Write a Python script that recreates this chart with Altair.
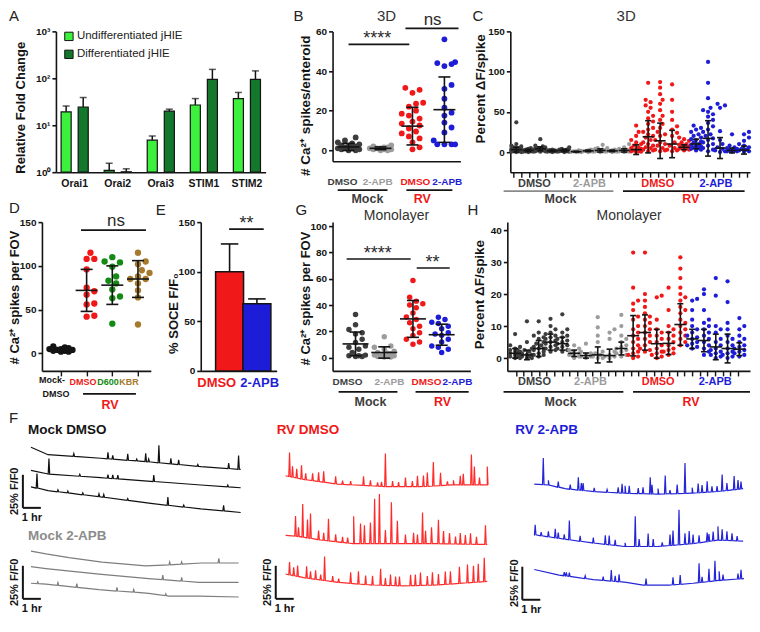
import altair as alt
import numpy as np
import pandas as pd

FONT = "Liberation Sans"
BLACK = "#141414"
DARK = "#3d3d3d"
GRAY = "#9c9c9c"
LINEGRAY = "#8a8a8a"
RED = "#f01818"
BLUE = "#1d1dd8"
GREEN = "#138a13"
BROWN = "#a67a2c"
LGREEN = "#3ef03e"
DGREEN = "#13782b"
T_BLACK = "#111111"
T_GRAY = "#7d7d7d"
T_RED = "#ff2a2a"
T_BLUE = "#2525d8"

# ---------------- Panel A data ----------------
A_GENES = ["Orai1", "Orai2", "Orai3", "STIM1", "STIM2"]
A_SERIES = ["Undifferentiated jHIE", "Differentiated jHIE"]
A_UNDIFF = [19.3, 1.09, 4.8, 27.0, 37.0]
A_UNDIFF_UP = [25.7, 1.55, 5.9, 37.0, 50.0]
A_DIFF = [24.5, 1.02, 20.0, 95.0, 95.0]
A_DIFF_UP = [39.0, 1.18, 22.0, 155.0, 144.0]
A_TICKS = [1, 10, 100, 1000]
A_TICK_LABELS = ["10⁰", "10¹", "10²", "10³"]

# ---------------- Panel B data (3D spikes/enteroid) ----------------
B_LABELS = ["DMSO", "2-APB", "DMSO", "2-APB"]
B_COLORS = [DARK, GRAY, RED, BLUE]
B_MOCK_DMSO = [6.5, 5.0, 4.0, 3.5, 3.0, 2.5, 2.0, 2.0, 1.5, 1.0, 1.0, 0.5, 0.5, 0.0, 0.0]
B_MOCK_2APB = [2.5, 2.0, 1.5, 1.5, 1.0, 1.0, 1.0, 0.5, 0.5, 0.5, 0.0, 0.0]
B_RV_DMSO = [31.5, 30.5, 29.0, 24.0, 23.5, 22.0, 20.0, 18.5, 17.5, 16.0, 14.5, 13.5, 12.5,
             11.0, 9.5, 8.5, 7.0, 6.0, 4.0, 1.5, 0.5]
B_RV_2APB = [56.0, 44.5, 44.0, 43.5, 42.5, 33.0, 31.0, 26.0, 21.5, 19.0, 17.5, 14.0, 11.5,
             9.0, 5.0, 3.0, 3.0, 3.0, 3.0]
B_MEAN = [1.7, 1.0, 12.2, 20.5]
B_SD = [1.8, 0.7, 9.5, 16.5]

# ---------------- Panel C data (3D percent dF/spike, 20 columns) ----------------
C_COLS = [
    [37, 10, 8, 7, 6, 5, 5, 4, 4, 3, 3, 3, 2, 2, 2, 1, 1, 1, 0.5, 0, 0],
    [5, 4, 3, 3, 2, 2, 2, 1.5, 1, 1, 1, 0.5, 0.5, 0],
    [16, 8, 7, 6, 5, 5, 4, 4, 3, 3, 2, 2, 1, 1, 0.5],
    [3, 2.5, 2, 2, 1.5, 1.5, 1, 1, 0.5, 0.5, 0],
    [6, 4, 3, 3, 2, 2, 1.5, 1, 1, 0.5, 0],
    [2, 1.5, 1, 1, 0.5, 0.5, 0, 0],
    [3, 2.5, 2, 1.5, 1, 1, 0.5, 0],
    [9, 5, 4, 3, 2, 2, 1.5, 1, 1, 0.5, 0],
    [5, 3, 2, 2, 1.5, 1, 1, 0.5, 0],
    [10, 6, 4, 3, 2, 2, 1.5, 1, 1, 0.5, 0],
    [33, 25, 20, 15, 12, 10, 8, 6, 5, 4, 3, 2, 1, 1, 0.5, 0],
    [86, 65, 62, 58, 55, 50, 45, 42, 38, 35, 30, 28, 25, 22, 20, 18, 15, 12, 10, 8, 6, 5, 3, 2, 1],
    [87, 80, 72, 65, 60, 52, 45, 40, 35, 30, 25, 22, 20, 15, 12, 10, 8, 5, 3, 2, 1],
    [84, 65, 50, 40, 32, 28, 24, 20, 12, 8, 5, 3, 2, 1],
    [18, 16, 14, 12, 10, 9, 8, 7, 6, 5, 4, 3, 2],
    [33, 30, 28, 25, 22, 20, 18, 16, 15, 13, 12, 10, 9, 8, 7, 6, 5, 4, 3, 2],
    [112, 86, 67, 55, 52, 50, 47, 44, 40, 36, 32, 28, 25, 22, 20, 17, 15, 12, 10, 8, 5, 3, 1],
    [60, 58, 55, 26, 15, 10, 6, 4, 2, 1, 0],
    [22, 8, 6, 5, 4, 3, 2, 2, 1, 1, 0.5],
    [25, 22, 18, 14, 10, 8, 6, 4, 3, 2, 1, 0.5],
]
C_MEAN = [3, 2, 4, 1.5, 2, 0.5, 1.5, 2, 1.5, 2, 3, 19, 14, 10, 6, 10, 17, 5, 2, 2.5]
C_SD = [3, 1.5, 2.5, 1, 1.5, 0.5, 1, 2, 1, 2, 6, 20, 22, 17, 3, 6, 22, 13, 3, 5]
COL_COLORS = [DARK] * 5 + [GRAY] * 5 + [RED] * 5 + [BLUE] * 5
GROUP_LABELS = ["DMSO", "2-APB", "DMSO", "2-APB"]
GROUP_COLORS = [DARK, GRAY, RED, BLUE]

# ---------------- Panel D data ----------------
D_LABELS = ["DMSO", "D600", "KBR"]
D_COLORS = [BLACK, RED, GREEN, BROWN]
D_MOCK = [8, 7, 6, 5, 5, 4, 4, 3, 3, 2, 2]
D_DMSO = [115, 108, 108, 96, 75, 71, 67, 57, 56, 43, 42]
D_D600 = [110, 105, 104, 99, 88, 83, 80, 73, 65, 63, 34]
D_KBR = [115, 105, 102, 95, 92, 88, 85, 85, 80, 72, 64, 33]
D_MEAN = [4.5, 72, 78, 85]
D_SD = [2, 24, 22, 21]

# ---------------- Panel E data ----------------
E_LABELS = ["DMSO", "2-APB"]
E_MEAN = [100.0, 67.6]
E_UP = [128.0, 72.6]
E_COLORS = [RED, BLUE]

# ---------------- Panel G data (monolayer spikes/FOV) ----------------
G_MOCK_DMSO = [32.8, 25, 21.5, 19, 18, 14, 11.5, 9, 8, 6.5, 4, 2, 1.5, 1.5, 1, 1]
G_MOCK_2APB = [16, 9, 8, 6.5, 5, 4, 3.5, 3, 2.5, 2, 1.5, 1.5, 1, 1, 0.5, 0.5]
G_RV_DMSO = [58.6, 46, 43, 41, 40, 38, 34, 31, 29, 26.5, 24, 22, 19, 17, 14, 12, 10.3]
G_RV_2APB = [30.8, 29, 27, 26, 24, 22, 19, 18, 17, 14, 12, 9, 8, 6.5, 4]
G_MEAN = [10.5, 4.0, 29.5, 17.5]
G_SD = [9.0, 4.3, 14.0, 8.0]

# ---------------- Panel H data (monolayer percent dF/spike) ----------------
H_COLS = [
    [7.5, 4, 3.5, 3, 2.5, 2.5, 2, 2, 1.5, 1.5, 1, 1, 0.5, 0.5, 0, 0],
    [11.5, 5, 3, 2.5, 2, 1.5, 1, 1, 0.5, 0.5, 0, 0],
    [11.5, 8, 7, 6.5, 6, 5, 4.5, 4, 3.5, 3, 3, 2.5, 2, 1.5, 1, 1, 0.5],
    [12.3, 10, 9, 8, 7.5, 7, 6.5, 6, 5.5, 5, 4.5, 4, 3.5, 3, 2.5, 2],
    [13.7, 9, 8, 7, 6.5, 6, 5.5, 5, 4.5, 4, 3.5, 3, 2.5, 2],
    [4, 3, 2.5, 2, 1.5, 1.5, 1, 1, 0.5, 0],
    [4.5, 2, 1.5, 1, 0.5, 0.5, 0],
    [12.8, 9.6, 7, 5, 2, 1.5, 1, 0.5, 0, 0],
    [9, 8, 6, 2, 1, 0.5, 0.5, 0],
    [13.5, 10, 7, 6, 5, 4, 3.5, 3, 2.5, 2, 1.5, 1, 0.5],
    [33, 22, 18, 17, 15, 13, 12, 10, 9, 8, 7, 6, 5, 4, 3, 2, 1.5, 1, 0.5, 0],
    [33, 20, 18, 16, 14, 13, 12, 11, 10, 9, 8, 7, 6, 5, 4, 3, 2.5, 2],
    [19.5, 19, 12, 9, 8, 7, 6, 5, 4, 3, 2, 1.5, 1, 0.5, 0],
    [22, 15, 10, 9, 8, 7, 6, 5, 4, 3, 2.5, 2, 1.5, 1],
    [31.5, 28, 25, 22, 20, 19, 18, 16, 15, 14, 12, 11, 10, 9, 8, 7, 6, 5, 4],
    [18.5, 18, 15, 12, 10, 9, 8, 7, 6.5, 6, 5, 4.5, 4, 3.5, 3],
    [21.5, 20, 15, 12, 11, 10, 9, 8, 7, 6, 5, 4, 3, 2, 1],
    [25, 19.5, 10, 9, 8, 6, 5, 4, 3, 2.5, 2, 1.5, 1, 0.5, 0],
    [24, 17.5, 11, 9, 7, 6, 5, 4, 3, 2, 1.5, 1, 0.5, 0],
    [12.5, 10, 9, 7, 6, 5, 4, 3.5, 3, 2.5, 2, 1.5, 1, 0.5],
]
H_MEAN = [1.5, 1, 3, 5, 4.5, 1.5, 0.8, 1, 0.8, 3, 7, 8, 4.5, 4.6, 10.5, 6, 5.5, 3.5, 3, 2.8]
H_SD = [1.5, 1.5, 2.5, 2.5, 2, 1, 0.8, 2.5, 2, 2, 6.3, 5.5, 4.5, 3.5, 6.5, 3, 3.5, 4, 4.5, 2]

# ---------------- Panel F data (traces: minutes, % F/F0) ----------------
MD1_T = [0, 57, 233, 400, 567, 700]
MD1_V = [0, -5.6, -8.3, -11.1, -14.6, -16.7]
MD1_SP = [(143, 2.1), (257, 4.9), (273, 2.8), (323, 4.9), (353, 1.4), (383, 6.3), (393, 2.1),
          (427, 13.2), (467, 4.2), (493, 3.5), (557, 1.4), (660, 4.2), (693, 10.4)]
MD2_T = [0, 57, 233, 400, 567, 700]
MD2_V = [0, -2.8, -5.6, -8.3, -11.1, -13.2]
MD2_SP = [(60, 11.8), (163, 1.4), (257, 2.8), (273, 2.8), (290, 2.8), (410, 4.9), (657, 1.4)]
MD3_T = [0, 57, 233, 400, 567, 700]
MD3_V = [0, -2.8, -7.6, -12.5, -16.7, -19.4]
MD3_SP = [(20, 11.1), (90, 1.4), (123, 1.4), (173, 1.4), (227, 2.1), (243, 2.1), (323, 1.4),
          (457, 6.3), (510, 1.4), (643, 4.2)]
MA1_T = [0, 50, 127, 237, 383, 460, 570, 693]
MA1_V = [0, -2.1, -4.9, -8.3, -11.1, -10.4, -9.0, -9.0]
MA1_SP = [(463, 2.1), (503, 1.7), (627, 3.5)]
MA2_T = [0, 50, 227, 393, 560, 693]
MA2_V = [0, -1.4, -5.6, -9.0, -11.8, -11.8]
MA2_SP = [(440, 3.5), (503, 2.8)]
MA3_T = [0, 50, 227, 393, 460, 560, 693]
MA3_V = [0, -0.7, -4.9, -7.6, -9.7, -9.7, -10.4]
MA3_SP = [(23, 1.4), (90, 2.1), (153, 2.8), (287, 2.8), (343, 2.1), (450, 1.4)]

RD1_T = [0, 60, 173, 340, 450, 560, 673]
RD1_V = [0, -2.8, -6.3, -8.3, -8.3, -6.9, -6.9]
RD1_SP = [(13, 18.1), (23, 8.3), (37, 6.9), (53, 10.4), (67, 4.9), (90, 5.6), (110, 6.9), (127, 8.3),
          (167, 5.6), (190, 2.8), (217, 2.8), (260, 6.9), (283, 4.2), (307, 2.8), (320, 3.5), (333, 25.0),
          (357, 4.2), (377, 3.5), (400, 6.9), (423, 4.2), (440, 8.3), (460, 8.3), (473, 10.4), (493, 18.1),
          (517, 9.7), (540, 2.8), (560, 3.5), (583, 6.9), (593, 8.3), (620, 22.9), (630, 13.9), (647, 5.6),
          (673, 13.9)]
RD2_T = [0, 40, 117, 227, 393, 507, 673]
RD2_V = [0, -0.7, -3.5, -6.3, -6.3, -6.3, -6.9]
RD2_SP = [(33, 15.3), (43, 6.9), (57, 25.0), (73, 13.9), (83, 18.8), (110, 6.9), (127, 5.6), (143, 16.7),
          (167, 5.6), (190, 4.2), (207, 4.2), (227, 20.8), (250, 15.3), (263, 13.9), (283, 16.0), (297, 34.0),
          (313, 37.5), (333, 10.4), (353, 31.3), (373, 17.4), (400, 6.9), (427, 8.3), (440, 6.9), (457, 23.6),
          (467, 9.7), (487, 12.5), (510, 18.1), (527, 9.7), (547, 8.3), (567, 5.6), (583, 8.3), (600, 6.9),
          (617, 8.3), (637, 5.6), (667, 14.6)]
RD3_T = [0, 60, 173, 283, 393, 507, 673]
RD3_V = [0, -2.8, -6.3, -8.3, -9.0, -8.3, -5.6]
RD3_SP = [(13, 9.7), (27, 6.3), (40, 8.3), (70, 9.0), (83, 5.6), (100, 6.9), (117, 4.2), (130, 18.1),
          (157, 4.2), (177, 2.8), (217, 8.3), (243, 9.7), (267, 6.9), (290, 6.9), (317, 12.5), (333, 5.6),
          (350, 8.3), (367, 6.9), (380, 6.9), (417, 8.3), (433, 8.3), (450, 9.7), (473, 6.9), (490, 9.7),
          (510, 8.3), (533, 9.7), (550, 9.7), (580, 12.5), (607, 13.9), (627, 12.5), (643, 13.9), (663, 18.1)]

RB1_T = [0, 47, 103, 193, 303, 413, 527, 613, 697]
RB1_V = [0, -0.7, -3.5, -5.6, -6.9, -7.6, -6.9, -5.6, -3.5]
RB1_SP = [(30, 20.1), (47, 3.5), (80, 4.2), (120, 3.5), (147, 9.7), (157, 5.6), (163, 5.6), (200, 2.8),
          (243, 2.1), (280, 4.2), (293, 6.9), (303, 5.6), (317, 5.6), (347, 4.2), (363, 4.9), (387, 12.5),
          (393, 6.9), (413, 4.2), (437, 13.9), (453, 2.8), (477, 6.9), (503, 22.9), (527, 4.2), (547, 6.9),
          (560, 5.6), (577, 8.3), (593, 4.2), (610, 4.2), (627, 12.5), (643, 5.6), (667, 10.4), (680, 6.9),
          (690, 5.6)]
RB2_T = [0, 37, 103, 193, 303, 413, 527, 613, 697]
RB2_V = [0, -1.4, -3.5, -6.3, -9.0, -9.0, -6.9, -4.2, -4.9]
RB2_SP = [(3, 7.6), (23, 2.8), (47, 4.2), (70, 6.9), (80, 4.2), (100, 3.5), (117, 14.6), (153, 4.2),
          (197, 4.2), (237, 6.9), (250, 6.9), (270, 4.2), (303, 2.8), (337, 22.9), (350, 5.6), (380, 9.7),
          (397, 5.6), (427, 2.8), (453, 8.3), (463, 11.1), (483, 26.4), (503, 8.3), (517, 9.7), (530, 6.9),
          (550, 5.6), (577, 6.9), (583, 5.6), (597, 6.9), (613, 10.4), (627, 8.3), (643, 6.9), (660, 5.6),
          (677, 3.5)]
RB3_T = [0, 83, 197, 307, 363, 450, 530, 617, 700]
RB3_V = [0, -4.2, -7.6, -9.7, -11.8, -11.8, -10.4, -8.3, -6.9]
RB3_SP = [(100, 2.8), (107, 2.8), (117, 2.8), (170, 2.1), (230, 2.8), (257, 8.3), (270, 4.2), (283, 5.6),
          (373, 4.9), (463, 5.6), (487, 6.9), (550, 14.6), (560, 4.2), (583, 9.7), (603, 15.3), (617, 6.9),
          (630, 4.2), (680, 4.2), (690, 6.9)]

F_SCALE_PCT = 25   # scale bar: 25% F/F0
F_SCALE_MIN = 60   # scale bar: 1 hr
F_YDOM = [-125, 20]
# vertical stacking offsets of traces (layout only)
OFF_MOCK = [0, -17.4, -29.9, -78.5, -90.3, -102.8]
OFF_RVD = [-21.5, -66.6, -95.8]
OFF_RVB = [-27.8, -66.0, -92.4]

LAB_FS = 10  # tick label font size


# ================= helpers =================
def one():
    return pd.DataFrame({"k": [0]})


def label(s, x, y, size=12.0, color=BLACK, weight="bold", align="center", baseline="middle"):
    return alt.Chart(one()).mark_text(
        text=s, font=FONT, fontSize=size, fontWeight=weight, color=color, align=align, baseline=baseline
    ).encode(x=alt.value(x), y=alt.value(y))


def anchor(x, y1, y2):
    # invisible rule that only extends a row's layout bounds
    return alt.Chart(one()).mark_rule(opacity=0, strokeWidth=0.5).encode(
        x=alt.value(x), y=alt.value(y1), y2=alt.value(y2))


def ann_text(rows, xscale, xax, baseline="middle", weight="bold"):
    df = pd.DataFrame(rows, columns=["x", "py", "s", "c", "fs"])
    return alt.Chart(df).mark_text(font=FONT, fontWeight=weight, baseline=baseline, align="center").encode(
        x=alt.X("x:Q", scale=xscale, axis=xax),
        y=alt.Y("py:Q", scale=None),
        text="s:N",
        color=alt.Color("c:N", scale=None),
        size=alt.Size("fs:Q", scale=None, legend=None),
    )


def ann_rule(rows, xscale, xax, width=1.6):
    df = pd.DataFrame(rows, columns=["x", "x2", "py", "c"])
    return alt.Chart(df).mark_rule(strokeWidth=width).encode(
        x=alt.X("x:Q", scale=xscale, axis=xax),
        x2="x2:Q",
        y=alt.Y("py:Q", scale=None),
        color=alt.Color("c:N", scale=None),
    )


def yaxis(title, values, tx, ty, tsize=13.5, **kw):
    return alt.Axis(
        title=title, values=values, grid=False, domainColor=BLACK, domainWidth=1.6, tickColor=BLACK,
        tickWidth=1.6, tickSize=4, labelFont=FONT, labelFontSize=LAB_FS, labelFontWeight="bold",
        labelColor=BLACK, labelPadding=2, titleFont=FONT, titleFontSize=tsize, titleFontWeight="bold",
        titleColor=BLACK, titleX=tx, titleY=ty, titleAngle=270, titleAlign="center",
        titleBaseline="middle", **kw)


def xaxis(values=None, ticks=True):
    kw = dict(title=None, labels=False, grid=False, domainColor=BLACK, domainWidth=1.6,
              tickColor=BLACK, tickWidth=1.4, tickSize=5, ticks=ticks)
    if values is not None:
        kw["values"] = values
    return alt.Axis(**kw)


def swarm(vals, ypx, dpx, maxw):
    order = sorted(range(len(vals)), key=lambda i: vals[i])
    cands = [0.0]
    k = 1
    while k * dpx * 0.55 <= maxw + 1e-9:
        cands += [k * dpx * 0.55, -k * dpx * 0.55]
        k += 1
    placed = []
    offs = [0.0] * len(vals)
    for i in order:
        y = vals[i] * ypx
        best, bestd = 0.0, -1.0
        for c in cands:
            d = min([float(np.hypot(c - px, y - py)) for py, px in placed], default=1e9)
            if d >= dpx:
                best = c
                break
            if d > bestd:
                best, bestd = c, d
        placed.append((y, best))
        offs[i] = best
    return offs


def dot_layers(groups, xs, colors, means, sds, xdom, ydom, w, h, yax, xax, dpx, maxw, mean_hw, cap_hw, size):
    xpx = w / (xdom[1] - xdom[0])
    ypx = h / (ydom[1] - ydom[0])
    xsc = alt.Scale(domain=xdom, nice=False, zero=False)
    ysc = alt.Scale(domain=ydom, nice=False, zero=False)
    rows = []
    for vals, x, c in zip(groups, xs, colors):
        offs = swarm(vals, ypx, dpx, maxw)
        rows += [{"x": x + o / xpx, "y": v, "c": c} for v, o in zip(vals, offs)]
    X = lambda f: alt.X(f, scale=xsc, axis=xax)
    Y = lambda f: alt.Y(f, scale=ysc, axis=yax)
    pts = alt.Chart(pd.DataFrame(rows)).mark_circle(size=size, opacity=1).encode(
        x=X("x:Q"), y=Y("y:Q"), color=alt.Color("c:N", scale=None))
    st = pd.DataFrame({"x": xs, "m": means})
    st["lo"] = [m - s for m, s in zip(means, sds)]
    st["hi"] = [m + s for m, s in zip(means, sds)]
    st["a1"] = st["x"] - mean_hw / xpx
    st["a2"] = st["x"] + mean_hw / xpx
    st["c1"] = st["x"] - cap_hw / xpx
    st["c2"] = st["x"] + cap_hw / xpx
    base = alt.Chart(st).mark_rule(color=BLACK, strokeWidth=1.6)
    sd = base.encode(x=X("x:Q"), y=Y("lo:Q"), y2="hi:Q")
    cl = base.encode(x=X("c1:Q"), x2="c2:Q", y=Y("lo:Q"))
    ch = base.encode(x=X("c1:Q"), x2="c2:Q", y=Y("hi:Q"))
    mn = base.encode(x=X("a1:Q"), x2="a2:Q", y=Y("m:Q"))
    return [pts, sd, cl, ch, mn], xsc


def spacer(w, h=1):
    return alt.Chart(one()).mark_point(opacity=0).properties(width=w, height=h)


# ================= Panel A =================
wA, hA = 210, 141
dfA = pd.DataFrame({
    "gene": A_GENES * 2,
    "series": [A_SERIES[0]] * 5 + [A_SERIES[1]] * 5,
    "val": A_UNDIFF + A_DIFF,
    "up": A_UNDIFF_UP + A_DIFF_UP,
})
lab_expr = " : ".join(f"datum.value == {v} ? '{l}'" for v, l in zip(A_TICKS, A_TICK_LABELS)) + " : ''"
xA = alt.X("gene:N", sort=A_GENES, scale=alt.Scale(paddingInner=0.37, paddingOuter=0.12),
           axis=alt.Axis(title=None, labelAngle=0, ticks=False, domainColor=BLACK, domainWidth=1.6,
                         labelFont=FONT, labelFontSize=10.5, labelFontWeight="bold", labelColor=BLACK,
                         labelPadding=6))
xoA = alt.XOffset("series:N", sort=A_SERIES, scale=alt.Scale(paddingInner=0.41))
ysA = alt.Scale(type="log", domain=[1, 1000], nice=False)
yaxA = yaxis("Relative Fold Change", A_TICKS, -35, 76, tsize=13, labelExpr=lab_expr)
barsA = alt.Chart(dfA).mark_bar(stroke=BLACK, strokeWidth=1.2).encode(
    x=xA, xOffset=xoA,
    y=alt.Y("val:Q", scale=ysA, axis=yaxA),
    y2=alt.datum(1),
    color=alt.Color("series:N", sort=A_SERIES, scale=alt.Scale(domain=A_SERIES, range=[LGREEN, DGREEN]),
                    legend=None),
)
errA = alt.Chart(dfA).mark_rule(color=BLACK, strokeWidth=1.5).encode(
    x=xA, xOffset=xoA, y=alt.Y("val:Q", scale=ysA, axis=yaxA), y2="up:Q")
capA = alt.Chart(dfA).mark_tick(color=BLACK, thickness=1.5, size=7, orient="horizontal").encode(
    x=xA, xOffset=xoA, y=alt.Y("up:Q", scale=ysA, axis=yaxA))
legA = pd.DataFrame({"s": A_SERIES, "c": [LGREEN, DGREEN], "py": [5, 23]})
legSq = alt.Chart(legA).mark_square(size=70, opacity=1, stroke=BLACK, strokeWidth=1).encode(
    x=alt.value(13), y=alt.Y("py:Q", scale=None), color=alt.Color("c:N", scale=None))
legTx = alt.Chart(legA).mark_text(align="left", font=FONT, fontSize=11.5, color="#222222").encode(
    x=alt.value(21), y=alt.Y("py:Q", scale=None), text="s:N")
panelA = alt.layer(
    barsA, errA, capA, legSq, legTx,
    label("A", -47, -22, size=15, weight="normal", color="#222222", align="left", baseline="top"),
).properties(width=wA, height=hA)

# ================= Panel B =================
wB, hB = 128, 130
xaxB = xaxis(ticks=False)
layB, xsB = dot_layers(
    [B_MOCK_DMSO, B_MOCK_2APB, B_RV_DMSO, B_RV_2APB], [0, 1, 2, 3], B_COLORS, B_MEAN, B_SD,
    [-0.5, 3.5], [-5.5, 60], wB, hB,
    yaxis("# Ca²⁺ spikes/enteroid", [0, 20, 40, 60], -27, 74), xaxB,
    dpx=6.5, maxw=12, mean_hw=11, cap_hw=6, size=34)
B_LABEL_X = [-0.19, 0.91, 2.09, 3.09]
panelB = alt.layer(
    *layB,
    ann_rule([(-0.34, 1.22, 159, BLACK), (1.81, 3.25, 159, BLACK), (0.0, 1.9, 13, BLACK),
              (1.78, 3.44, -3, BLACK)], xsB, xaxB),
    ann_text([(x, 151, s, c, 10) for x, s, c in zip(B_LABEL_X, B_LABELS, B_COLORS)]
             + [(0.59, 168, "Mock", DARK, 12.5), (2.31, 168, "RV", RED, 12.5)], xsB, xaxB),
    ann_text([(0.9, 13, "****", "#2a2a2a", 18), (2.63, -6, "ns", "#2a2a2a", 17)], xsB, xaxB,
             baseline="alphabetic", weight="normal"),
    label("B", -39, -22, size=15, weight="normal", color="#222222", align="left", baseline="top"),
    label("3D", 54, -22, size=15, weight="normal", color="#333333", baseline="top"),
).properties(width=wB, height=hB)

# ================= Panel C =================
wC, hC = 240, 141
C_TICKS = [round(-0.23 + 0.671 * k, 3) for k in range(30)]
xaxC = xaxis(values=C_TICKS)
layC, xsC = dot_layers(
    C_COLS, list(range(20)), COL_COLORS, C_MEAN, C_SD, [-0.5, 19.5], [-25, 150], wC, hC,
    yaxis("Percent ΔF/spike", [0, 50, 100, 150], -30, 57), xaxC,
    dpx=4.5, maxw=6, mean_hw=5.5, cap_hw=3, size=18)
C_LABEL_X = [1.51, 6.1, 11.8, 16.65]
panelC = alt.layer(
    *layC,
    ann_rule([(-1.06, 8.1, 160, LINEGRAY), (8.9, 19.05, 160, BLACK)], xsC, xaxC),
    ann_text([(x, 153, s, c, 11) for x, s, c in zip(C_LABEL_X, GROUP_LABELS, GROUP_COLORS)]
             + [(3.69, 168, "Mock", DARK, 12.5), (14.56, 168, "RV", RED, 12.5)], xsC, xaxC),
    label("C", -38, -22, size=15, weight="normal", color="#222222", align="left", baseline="top"),
    label("3D", 116, -22, size=15, weight="normal", color="#333333", baseline="top"),
).properties(width=wC, height=hC)

# ================= Panel D =================
wD, hD = 109, 149
xaxD = xaxis(values=[0, 1, 2, 3])
layD, xsD = dot_layers(
    [D_MOCK, D_DMSO, D_D600, D_KBR], [0, 1, 2, 3], D_COLORS, D_MEAN, D_SD, [-0.74, 3.5], [-20, 150], wD, hD,
    yaxis("# Ca²⁺ spikes per FOV", [0, 50, 100, 150], -27, 75, tsize=13), xaxD,
    dpx=7, maxw=12, mean_hw=11, cap_hw=6, size=40)
panelD = alt.layer(
    *layD,
    ann_rule([(0.86, 2.92, 172, BLACK), (0.78, 3.31, 8, BLACK)], xsD, xaxD),
    ann_text([(-0.35, 158, "Mock-", BLACK, 9), (-0.19, 172, "DMSO", BLACK, 9),
              (0.86, 160, D_LABELS[0], RED, 9), (1.83, 160, D_LABELS[1], GREEN, 9),
              (2.65, 160, D_LABELS[2], BROWN, 9), (1.91, 183, "RV", RED, 12.5)], xsD, xaxD),
    ann_text([(2.14, 4, "ns", "#2a2a2a", 17)], xsD, xaxD, baseline="alphabetic", weight="normal"),
    label("D", -33, -21, size=15, weight="normal", color="#222222", align="left", baseline="top"),
    anchor(-10, 150, 193.5),
).properties(width=wD, height=hD)

# ================= Panel E =================
wE, hE = 76, 149
xsE = alt.Scale(domain=[-0.873, 1.54], nice=False, zero=False)
ysE = alt.Scale(domain=[0, 150], nice=False)
xaxE = xaxis(ticks=False)
yaxE = yaxis("% SOCE F/F₀", [0, 50, 100, 150], -27, 91, tsize=13)
dfE = pd.DataFrame({"x": [0, 1], "m": E_MEAN, "up": E_UP, "c": E_COLORS})
dfE["c1"] = dfE["x"] - 0.32
dfE["c2"] = dfE["x"] + 0.32
barsE = alt.Chart(dfE).mark_bar(width=28, stroke=BLACK, strokeWidth=1.5).encode(
    x=alt.X("x:Q", scale=xsE, axis=xaxE),
    y=alt.Y("m:Q", scale=ysE, axis=yaxE),
    color=alt.Color("c:N", scale=None))
errE = alt.Chart(dfE).mark_rule(color=BLACK, strokeWidth=1.6).encode(
    x=alt.X("x:Q", scale=xsE, axis=xaxE), y=alt.Y("m:Q", scale=ysE, axis=yaxE), y2="up:Q")
capE = alt.Chart(dfE).mark_rule(color=BLACK, strokeWidth=1.6).encode(
    x=alt.X("c1:Q", scale=xsE, axis=xaxE), x2="c2:Q", y=alt.Y("up:Q", scale=ysE, axis=yaxE))
panelE = alt.layer(
    barsE, errE, capE,
    ann_rule([(-0.016, 1.25, 7, BLACK)], xsE, xaxE),
    ann_text([(-0.47, 161, E_LABELS[0], RED, 13), (1.1, 161, E_LABELS[1], BLUE, 13)], xsE, xaxE),
    ann_text([(0.62, 7, "**", "#2a2a2a", 18)], xsE, xaxE, baseline="alphabetic", weight="normal"),
    label("E", -45, -19, size=15, weight="normal", color="#222222", align="left", baseline="top"),
).properties(width=wE, height=hE)

# ================= Panel G =================
wG, hG = 138, 149
xaxG = xaxis(ticks=False)
layG, xsG = dot_layers(
    [G_MOCK_DMSO, G_MOCK_2APB, G_RV_DMSO, G_RV_2APB], [0, 1, 2, 3], GROUP_COLORS, G_MEAN, G_SD,
    [-0.8, 4.0], [-10, 103], wG, hG,
    yaxis("# Ca²⁺ spikes per FOV", [0, 20, 40, 60, 80, 100], -27, 76, tsize=13), xaxG,
    dpx=6, maxw=12, mean_hw=13, cap_hw=6, size=30)
G_LABEL_X = [-0.28, 1.18, 2.47, 3.55]
panelG = alt.layer(
    *layG,
    ann_rule([(-0.59, 1.46, 170, BLACK), (2.09, 3.94, 170, BLACK), (-0.31, 1.92, 37, BLACK),
              (2.13, 3.28, 46, BLACK)], xsG, xaxG),
    ann_text([(x, 160, s, c, 10) for x, s, c in zip(G_LABEL_X, GROUP_LABELS, GROUP_COLORS)]
             + [(0.52, 180, "Mock", DARK, 12.5), (3.03, 180, "RV", RED, 12.5)], xsG, xaxG),
    ann_text([(0.77, 37, "****", "#2a2a2a", 18), (2.68, 46, "**", "#2a2a2a", 18)], xsG, xaxG,
             baseline="alphabetic", weight="normal"),
    label("G", -37, -19, size=15, weight="normal", color="#222222", align="left", baseline="top"),
    label("Monolayer", 64, -13, size=14, weight="normal", color="#333333", baseline="top"),
).properties(width=wG, height=hG)

# ================= Panel H =================
wH, hH = 243, 149
H_TICKS = [round(0.08 + 0.648 * k, 3) for k in range(30)]
xaxH = xaxis(values=H_TICKS)
layH, xsH = dot_layers(
    H_COLS, list(range(20)), COL_COLORS, H_MEAN, H_SD, [-0.66, 19.9], [-4, 42.5], wH, hH,
    yaxis("Percent ΔF/spike", [0, 10, 20, 30, 40], -28, 72), xaxH,
    dpx=4.5, maxw=6.5, mean_hw=6, cap_hw=3, size=18)
H_LABEL_X = [1.64, 6.39, 12.12, 16.95]
panelH = alt.layer(
    *layH,
    ann_rule([(-0.98, 9.17, 170, BLACK), (9.99, 19.9, 170, BLACK)], xsH, xaxH),
    ann_text([(x, 160, s, c, 11) for x, s, c in zip(H_LABEL_X, GROUP_LABELS, GROUP_COLORS)]
             + [(3.85, 180, "Mock", DARK, 12.5), (14.9, 180, "RV", RED, 12.5)], xsH, xaxH),
    label("H", -40, -19, size=15, weight="normal", color="#222222", align="left", baseline="top"),
    label("Monolayer", 122, -13, size=14, weight="normal", color="#333333", baseline="top"),
).properties(width=wH, height=hH)


# ================= Panel F (traces) =================
def trace_panel(traces, xdom, w, h, bars, extra):
    xs = alt.Scale(domain=xdom, nice=False, zero=False)
    ys = alt.Scale(domain=F_YDOM, nice=False, zero=False)
    frames = []
    for tid, (tt, vv, sp, off, col) in enumerate(traces):
        ts = list(tt)
        vs = list(vv)
        for t, hgt in sp:
            b = float(np.interp(t, tt, vv))
            ts += [t - 2.5, t, t + 2.5]
            vs += [b, b + hgt, b]
        frames.append(pd.DataFrame({"t": ts, "v": np.array(vs) + off, "id": tid, "c": col}))
    df = pd.concat(frames, ignore_index=True)
    lines = alt.Chart(df).mark_line(strokeWidth=1.2).encode(
        x=alt.X("t:Q", scale=xs, axis=None), y=alt.Y("v:Q", scale=ys, axis=None),
        detail="id:N", order="t:Q", color=alt.Color("c:N", scale=None))
    sb = pd.DataFrame(bars, columns=["x0", "y0"])
    sb["y1"] = sb["y0"] + F_SCALE_PCT
    sb["x1"] = sb["x0"] + F_SCALE_MIN
    sb["xm"] = sb["x0"] + F_SCALE_MIN / 2
    sb["ym"] = sb["y0"] + F_SCALE_PCT / 2
    X = lambda f: alt.X(f, scale=xs, axis=None)
    Y = lambda f: alt.Y(f, scale=ys, axis=None)
    vbar = alt.Chart(sb).mark_rule(color=BLACK, strokeWidth=2).encode(x=X("x0:Q"), y=Y("y0:Q"), y2="y1:Q")
    hbar = alt.Chart(sb).mark_rule(color=BLACK, strokeWidth=2).encode(x=X("x0:Q"), x2="x1:Q", y=Y("y0:Q"))
    vlab = alt.Chart(sb).mark_text(text="25% F/F0", angle=270, dy=-7.5, font=FONT, fontSize=11,
                                   fontWeight="bold", color=BLACK).encode(x=X("x0:Q"), y=Y("ym:Q"))
    hlab = alt.Chart(sb).mark_text(text="1 hr", dy=10, font=FONT, fontSize=11, fontWeight="bold",
                                   color=BLACK).encode(x=X("xm:Q"), y=Y("y0:Q"))
    return alt.layer(lines, vbar, hbar, vlab, hlab, *extra).properties(width=w, height=h)


hF = 192
panelFM = trace_panel(
    [(MD1_T, MD1_V, MD1_SP, OFF_MOCK[0], T_BLACK), (MD2_T, MD2_V, MD2_SP, OFF_MOCK[1], T_BLACK),
     (MD3_T, MD3_V, MD3_SP, OFF_MOCK[2], T_BLACK), (MA1_T, MA1_V, MA1_SP, OFF_MOCK[3], T_GRAY),
     (MA2_T, MA2_V, MA2_SP, OFF_MOCK[4], T_GRAY), (MA3_T, MA3_V, MA3_SP, OFF_MOCK[5], T_GRAY)],
    [-30, 746.7], 233, hF, [(-27, -45.8), (-27, -114.6)],
    [label("F", -13, -10, size=15, weight="normal", color="#222222", align="left", baseline="top"),
     label("Mock DMSO", 6, 9, size=13.5, color=BLACK, align="left"),
     label("Mock 2-APB", 6, 115, size=13.5, color="#8c8c8c", align="left")])
panelFR = trace_panel(
    [(RD1_T, RD1_V, RD1_SP, OFF_RVD[0], T_RED), (RD2_T, RD2_V, RD2_SP, OFF_RVD[1], T_RED),
     (RD3_T, RD3_V, RD3_SP, OFF_RVD[2], T_RED)],
    [-36.7, 703.3], 222, hF, [(-33, -114.6)],
    [label("RV DMSO", 2, 9, size=13.5, color=RED, align="left")])
panelFB = trace_panel(
    [(RB1_T, RB1_V, RB1_SP, OFF_RVB[0], T_BLUE), (RB2_T, RB2_V, RB2_SP, OFF_RVB[1], T_BLUE),
     (RB3_T, RB3_V, RB3_SP, OFF_RVB[2], T_BLUE)],
    [-60, 700], 228, hF, [(-40, -115.3)],
    [label("RV 2-APB", -1, 9, size=13.5, color=BLUE, align="left")])

# rows: panel origins line up on the same left edge, so leading spacers set each row's indent
row1 = alt.hconcat(spacer(34), panelA, spacer(67), panelB, spacer(50), panelC, spacing=0, bounds="flush")
row2 = alt.hconcat(spacer(20), panelD, spacer(50), panelE, spacer(56), panelG, spacer(37), panelH,
                   spacing=0, bounds="flush")
row3 = alt.hconcat(panelFM, spacer(20), panelFR, spacer(20), panelFB, spacing=0, bounds="flush")

chart = alt.vconcat(row1, row2, row3, spacing=-6).properties(padding=0).configure_view(
    stroke="transparent")

chart.save("out.html", embed_options={"renderer": "svg", "actions": False})
